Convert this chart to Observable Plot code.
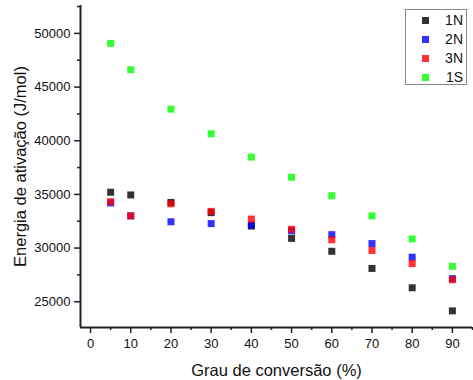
<!DOCTYPE html>
<html>
<head>
<meta charset="utf-8">
<script src="https://cdn.jsdelivr.net/npm/d3@7"></script>
<script src="https://cdn.jsdelivr.net/npm/@observablehq/plot@0.6"></script>
<style>
  html, body { margin: 0; padding: 0; background: #fff; }
  #wrap { position: relative; width: 473px; height: 380px; font-family: "Liberation Sans", Arial, sans-serif; }
  #legend { position: absolute; left: 405px; top: 9px; width: 60px; height: 74px; border: 1px solid #888; background: #fff; }
  .row { position: absolute; left: 0; width: 60px; height: 19px; font-size: 14px; color: #111; }
  .sw { position: absolute; left: 16px; top: 6px; width: 7px; height: 7px; opacity: 0.8; }
  .lb { position: absolute; right: 3px; top: 1px; }
</style>
</head>
<body>
<div id="wrap"></div>
<script>
// Conversion degree (%) at which the activation energy was evaluated
const conversion = [5, 10, 20, 30, 40, 50, 60, 70, 80, 90];
const seriesNames = ["1N", "2N", "3N", "1S"];
const seriesColors = ["#000000", "#0000ff", "#ff0000", "#00ff00"];

// Activation energy (J/mol) for each sample
const e1N = [35200, 34950, 34250, 33300, 32050, 30900, 29700, 28100, 26300, 24150];
const e2N = [34200, 33000, 32450, 32280, 32150, 31600, 31250, 30420, 29150, 27150];
const e3N = [34320, 33000, 34130, 33420, 32700, 31750, 30770, 29780, 28550, 27050];
const e1S = [49070, 46620, 42940, 40650, 38480, 36600, 34880, 33000, 30850, 28300];

const xTicks = [0, 10, 20, 30, 40, 50, 60, 70, 80, 90];
const xMinor = [5, 15, 25, 35, 45, 55, 65, 75, 85, 95];
const yTicks = [25000, 30000, 35000, 40000, 45000, 50000];
const yMinor = [22500, 27500, 32500, 37500, 42500, 47500, 52500];

const xDomain = [-2.5, 95];
const yDomain = [22600, 52600];

const allSeries = [e1N, e2N, e3N, e1S];
const points = allSeries.flatMap((vals, s) =>
  vals.map((v, i) => ({ x: conversion[i], y: v, serie: seriesNames[s] }))
);

const axisColor = "#222";
const chart = Plot.plot({
  width: 473,
  height: 380,
  marginLeft: 80,
  marginRight: 1,
  marginTop: 5,
  marginBottom: 53,
  style: { fontFamily: "'Liberation Sans', Arial, sans-serif", fontSize: "13px", color: "#111", background: "#fff" },
  x: { domain: xDomain },
  y: { domain: yDomain },
  color: { domain: seriesNames, range: seriesColors },
  marks: [
    Plot.axisX({ ticks: xTicks, tickSize: 6, tickPadding: 5, tickFormat: d => String(d), label: null, stroke: axisColor, strokeWidth: 1.5, fontSize: 13 }),
    Plot.axisX({ ticks: xMinor, tickSize: 3, tickFormat: () => "", label: null, stroke: axisColor, strokeWidth: 1.5 }),
    Plot.axisY({ ticks: yTicks, tickSize: 6, tickPadding: 4, tickFormat: d => String(d), label: null, stroke: axisColor, strokeWidth: 1.5, fontSize: 13 }),
    Plot.axisY({ ticks: yMinor.filter(v => v > yDomain[0] && v < yDomain[1]), tickSize: 3, tickFormat: () => "", label: null, stroke: axisColor, strokeWidth: 1.5 }),
    Plot.ruleY([yDomain[0]], { stroke: axisColor, strokeWidth: 2 }),
    Plot.ruleX([xDomain[0]], { stroke: axisColor, strokeWidth: 2 }),
    Plot.dot(points, { x: "x", y: "y", fill: "serie", symbol: "square", r: 3.95, fillOpacity: 0.8 }),
    Plot.text(["Grau de conversão (%)"], { frameAnchor: "bottom", textAnchor: "middle", dy: 43, lineAnchor: "middle", fontSize: 16.5, fill: "#111" }),
    Plot.text(["Energia de ativação (J/mol)"], { frameAnchor: "left", textAnchor: "middle", dx: -60, rotate: -90, lineAnchor: "middle", fontSize: 16.5, fill: "#111" })
  ]
});

const wrap = document.getElementById("wrap");
wrap.appendChild(chart);

// Legend box, one row per series
const legend = document.createElement("div");
legend.id = "legend";
seriesNames.forEach((name, i) => {
  const row = document.createElement("div");
  row.className = "row";
  row.style.top = (i * 19 + 1) + "px";
  const sw = document.createElement("div");
  sw.className = "sw";
  sw.style.background = seriesColors[i];
  const lb = document.createElement("span");
  lb.className = "lb";
  lb.textContent = name;
  row.appendChild(sw);
  row.appendChild(lb);
  legend.appendChild(row);
});
wrap.appendChild(legend);
</script>
</body>
</html>
